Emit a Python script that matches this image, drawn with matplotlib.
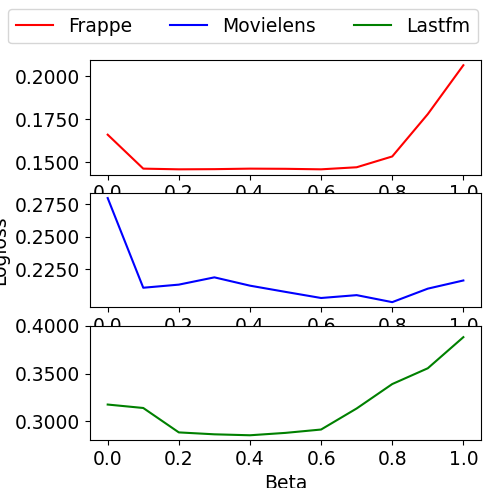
import matplotlib
matplotlib.use("Agg")
import matplotlib.pyplot as plt
from matplotlib.ticker import FormatStrFormatter

beta = [0.0, 0.1, 0.2, 0.3, 0.4, 0.5, 0.6, 0.7, 0.8, 0.9, 1.0]
frappe = [0.1660, 0.1462, 0.1458, 0.1459, 0.1462, 0.1461, 0.1458, 0.1470, 0.1533, 0.1780, 0.2065]
movielens = [0.2798, 0.2107, 0.2131, 0.2187, 0.2123, 0.2075, 0.2028, 0.2050, 0.1996, 0.2100, 0.2163]
lastfm = [0.3176, 0.3140, 0.2885, 0.2865, 0.2855, 0.2880, 0.2915, 0.3135, 0.3390, 0.3555, 0.3880]

plt.rcParams["font.size"] = 13.5
fig, axes = plt.subplots(3, 1, figsize=(4.86, 4.88), dpi=100)
fig.subplots_adjust(left=0.185, right=0.99, top=0.877, bottom=0.098, hspace=0.16)

series = [("Frappe", frappe, "red"), ("Movielens", movielens, "blue"), ("Lastfm", lastfm, "green")]
lines = []
for ax, (name, vals, col) in zip(axes, series):
    (ln,) = ax.plot(beta, vals, color=col, label=name)
    lines.append(ln)
    ax.yaxis.set_major_formatter(FormatStrFormatter("%.4f"))
    ax.set_xticks([0.0, 0.2, 0.4, 0.6, 0.8, 1.0])

axes[0].set_yticks([0.15, 0.175, 0.2])
axes[1].set_yticks([0.225, 0.25, 0.275])
axes[2].set_yticks([0.30, 0.35, 0.40])
axes[1].set_ylabel("Logloss")
axes[2].set_xlabel("Beta")
fig.legend(handles=lines, loc="upper center", ncol=3, bbox_to_anchor=(0.5, 1.0))
fig.savefig("out.png")
